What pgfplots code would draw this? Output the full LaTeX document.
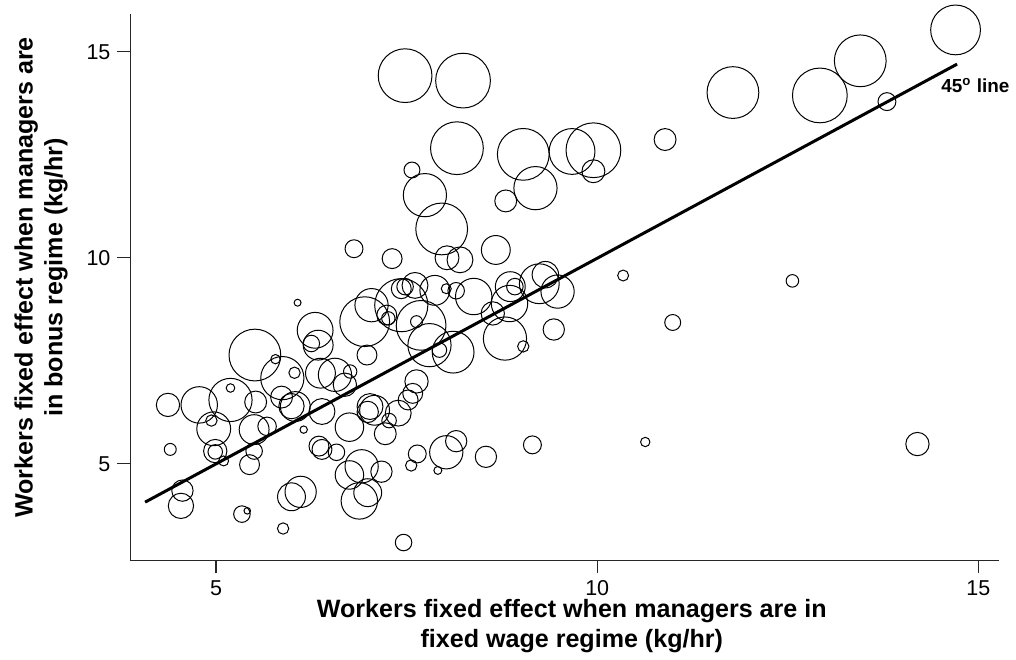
\documentclass[border=0pt]{standalone}
\usepackage{pgfplots}
\usepackage{pgfplotstable}
\pgfplotsset{compat=1.18}
\usepackage{fontspec}
\setmainfont{Liberation Sans}

% worker fixed effects: x = fixed wage regime, y = bonus regime, r = bubble radius (px of reference)
\pgfplotstableread{
x y r
7.48 14.42 27
8.24 14.30 27.5
8.16 12.66 26.5
9.03 12.51 26
9.67 12.58 23
9.95 12.61 27.5
9.95 12.10 11.5
10.89 12.87 11
11.78 14.01 26
12.92 13.94 27.5
13.45 14.78 26
14.70 15.53 25
13.80 13.79 9
7.57 12.13 8
7.74 11.52 21.7
9.19 11.69 21.7
8.80 11.38 11
7.96 10.70 26
8.67 10.19 14.5
7.31 9.98 10
8.03 10.00 12
8.20 9.95 13
6.81 10.22 9
10.34 9.57 5.5
12.56 9.44 6.3
10.99 8.43 8
10.63 5.53 4.7
14.20 5.48 11.7
8.38 9.06 18.3
8.15 9.20 8.3
8.86 9.30 15
8.92 9.30 8.3
9.24 9.37 20
9.32 9.59 13.3
9.48 9.18 16.7
8.85 8.89 18.3
8.63 8.65 11.7
8.79 8.04 21.7
9.03 7.85 5.7
9.43 8.26 10.7
8.11 7.71 21
7.93 7.76 7.3
7.80 7.88 21.7
7.87 9.21 15
7.43 8.85 26.7
7.43 9.25 10
7.48 9.30 8.3
7.61 9.33 13
8.02 9.25 5
6.95 8.45 25
7.04 8.85 16.7
6.98 7.64 10
7.24 8.61 10
7.26 8.53 6.7
7.63 8.45 6
7.69 8.36 25
6.30 8.24 18
6.25 7.92 8.3
6.34 7.88 15
6.37 7.20 15
6.56 7.16 16.7
6.76 7.24 6.7
6.69 6.92 11.7
7.58 6.71 10
7.63 7.00 11.7
7.02 6.39 13
7.39 6.23 13
7.08 6.30 15
7.27 6.05 7.3
6.75 5.89 14.3
6.99 6.26 10.7
7.52 6.55 10
7.22 5.73 11
6.58 5.28 8.3
6.35 5.43 10
6.39 5.35 10
6.91 4.94 16.7
6.75 4.73 14.3
7.17 4.81 10.7
6.99 4.30 14
6.88 4.10 18.3
7.64 5.24 9
7.56 4.96 5.7
7.91 4.84 4
8.02 5.28 16.7
8.15 5.55 10.7
8.54 5.17 10.7
7.46 3.09 8.3
9.15 5.46 9
6.39 6.27 13
6.04 6.39 15
5.86 6.62 11
5.87 7.08 21.7
6.03 7.21 5.7
5.51 7.64 26
5.78 7.54 4.7
5.19 6.55 21.7
5.19 6.84 4.3
4.78 6.43 18.3
4.37 6.43 11.7
5.52 6.50 11
4.97 5.85 17
4.94 6.05 5.7
5.50 5.83 15
5.67 5.91 9.3
6.15 5.83 3.7
4.40 5.35 6
4.99 5.31 11.7
4.99 5.29 7.3
5.10 5.07 5
5.50 5.31 8.3
5.44 4.98 10
4.56 4.35 10.7
4.54 3.98 12.7
5.34 3.78 8.3
5.41 3.86 3.3
5.99 4.20 14
6.11 4.32 15.7
5.88 3.43 5.7
6.07 8.91 3.5
5.99 6.40 12.7
}\workers

\begin{document}
\begin{tikzpicture}
\begin{axis}[
  scale only axis,
  width=436.5pt, height=274.5pt,
  xmin=3.877, xmax=15.274,
  ymin=2.657, ymax=15.918,
  axis x line*=bottom, axis y line*=left,
  axis line style={black!85, line width=0.6pt},
  xtick={5,10,15}, ytick={5,10,15},
  tick align=outside,
  major tick length=6.5pt,
  tick style={black!85, line width=0.6pt},
  ticklabel style={font=\fontsize{10.8}{13}\selectfont},
  /pgf/number format/assume math mode=true,
  clip=false,
  xlabel={Workers fixed effect when managers are in\\fixed wage regime (kg/hr)},
  xlabel style={font=\bfseries\fontsize{12.6}{15}\selectfont, align=center,
    at={(axis description cs:0.508,-0.058)}, anchor=north},
  ylabel={Workers fixed effect when managers are\\in bonus regime (kg/hr)},
  ylabel style={font=\bfseries\fontsize{12.6}{15}\selectfont, align=center,
    at={(axis description cs:-0.064,0.518)}, anchor=south, rotate=0},
]
\addplot[
  scatter, only marks, mark=o,
  scatter/use mapped color={draw=black},
  mark options={line width=0.5pt},
  visualization depends on={0.5*\thisrow{r} \as \rad},
  scatter/@pre marker code/.append style={/tikz/mark size=\rad},
] table[x=x, y=y] {\workers};
\addplot[black, line width=1.5pt] coordinates {(4.07,4.07) (14.72,14.70)};
\node[font=\bfseries\fontsize{9.5}{11}\selectfont] at (axis cs:14.96,14.18) {45\textsuperscript{o} line};
\coordinate (sw) at (rel axis cs:0,0);
\end{axis}
\path (sw) ++(-65.5pt,-48.5pt) rectangle ++(508pt,330pt);
\end{tikzpicture}
\end{document}
